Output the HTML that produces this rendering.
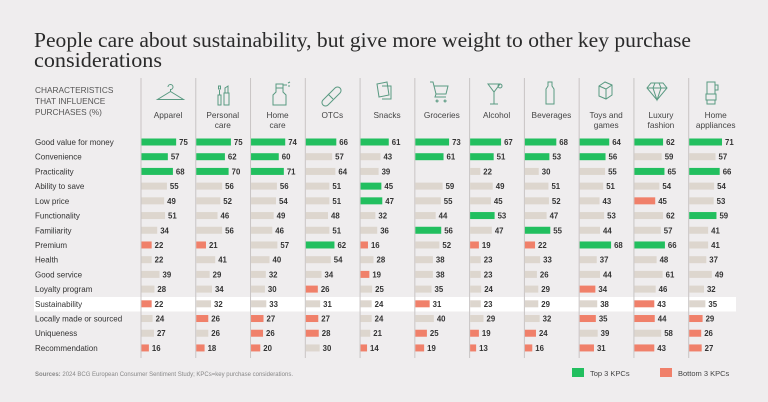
<!DOCTYPE html>
<html><head><meta charset="utf-8"><style>
html,body{margin:0;padding:0;background:#efedee;}
svg{display:block;font-family:"Liberation Sans",sans-serif;}
</style></head><body>
<svg id="chart" width="768" height="402" viewBox="0 0 768 402">
<rect x="0" y="0" width="768" height="402" fill="#efedee"/>
<text x="34" y="47" font-family="'Liberation Serif',serif" font-size="21" fill="#2a2a2a" textLength="657" lengthAdjust="spacingAndGlyphs">People care about sustainability, but give more weight to other key purchase</text>
<text x="34" y="67" font-family="'Liberation Serif',serif" font-size="21" fill="#2a2a2a" textLength="128" lengthAdjust="spacingAndGlyphs">considerations</text>
<rect x="34" y="297" width="702" height="14.5" fill="#ffffff"/>
<g fill="#555" font-size="8.3">
<text x="35" y="93">CHARACTERISTICS</text>
<text x="35" y="104">THAT INFLUENCE</text>
<text x="35" y="115">PURCHASES (%)</text>
</g>
<g id="icons" fill="none" stroke="#5a9a82" stroke-width="1">
<path d="M168 87 a2.5 2.5 0 1 1 2.5 2.5 v2 l-13 8 h26 l-13 -8"/>
<path d="M218 95 h3 v10 h-3 z M219.5 95 v-5 M218.5 86 h2 v3 h-2 z M224 93 h5 v12 h-5 z M225 93 v-5 l3 -2 v7"/>
<path d="M276 88 h7 v4 l3 3 v10 h-13 v-10 l3 -3 z M276 84 h7 v4 h-7 z M283 85 h4 M288 83 l2 -1 M288 86 h2"/>
<path d="M323 100 l12 -12 a3 3 0 0 1 5 5 l-12 12 a3 3 0 0 1 -5 -5 z M328 94 l5 5"/>
<path d="M377 84 l10 -2 l2 13 l-10 2 z M382 86 l9 0 l0 13 l-9 0"/>
<path d="M430 82 h3 l3 12 h10 l2 -8 h-14 M436 94 l-1 3 h11 M437 100 a1 1 0 1 0 0.1 0 M445 100 a1 1 0 1 0 0.1 0"/>
<path d="M488 84 h12 l-6 8 z M494 92 v12 M490 104 h8 M500 84 a2 2 0 1 0 0.1 0"/>
<path d="M548 82 h4 v4 l2 3 v15 h-8 v-15 l2 -3 z"/>
<path d="M599 86 l6 -4 l7 3 v10 l-6 4 l-7 -3 z M599 86 l7 3 l6 -4 M606 89 v10"/>
<path d="M651 83 h12 l4 5 l-10 12 l-10 -12 z M647 88 h20 M655 83 l-2 5 l4 12 l4 -12 l-2 -5"/>
<path d="M707 82 h8 v12 h-8 z M715 85 h3 v5 h-3 M706 94 h10 v6 h-10 z M707 100 h8 v4 h-8 z"/>
</g>
<g id="grid"></g>
<g id="labels"></g>
<g id="bars"></g>
<text x="35" y="376" font-size="6" fill="#888"><tspan font-weight="bold">Sources:</tspan> 2024 BCG European Consumer Sentiment Study; KPCs=key purchase considerations.</text>
<rect x="572" y="368" width="12" height="9" fill="#22bf5f"/>
<text x="590" y="376" font-size="7.5" fill="#444">Top 3 KPCs</text>
<rect x="660" y="368" width="12" height="9" fill="#f0806a"/>
<text x="678" y="376" font-size="7.5" fill="#444">Bottom 3 KPCs</text>
</svg>
<script>
const categories = [["Apparel"],["Personal","care"],["Home","care"],["OTCs"],["Snacks"],["Groceries"],["Alcohol"],["Beverages"],["Toys and","games"],["Luxury","fashion"],["Home","appliances"]];
const rowLabels = ["Good value for money","Convenience","Practicality","Ability to save","Low price","Functionality","Familiarity","Premium","Health","Good service","Loyalty program","Sustainability","Locally made or sourced","Uniqueness","Recommendation"];
const values = [
[75,75,74,66,61,73,67,68,64,62,71],
[57,62,60,57,43,61,51,53,56,59,57],
[68,70,71,64,39,null,22,30,55,65,66],
[55,56,56,51,45,59,49,51,51,54,54],
[49,52,54,51,47,55,45,52,43,45,53],
[51,46,49,48,32,44,53,47,53,62,59],
[34,56,46,51,36,56,47,55,44,57,41],
[22,21,57,62,16,52,19,22,68,66,41],
[22,41,40,54,28,38,23,33,37,48,37],
[39,29,32,34,19,38,23,26,44,61,49],
[28,34,30,26,25,35,24,29,34,46,32],
[22,32,33,31,24,31,23,29,38,43,35],
[24,26,27,27,24,40,29,32,35,44,29],
[27,26,26,28,21,25,19,24,39,58,26],
[16,18,20,30,14,19,13,16,31,43,27]];
const kinds = [
"ggggggggggg",
"gggnnggggnn",
"gggnnnnnngg",
"nnnngnnnnnn",
"nnnngnnnnrn",
"nnnnnngnnng",
"nnnnngngnnn",
"rrngrnrrggn",
"nnnnnnnnnnn",
"nnnnrnnnnnn",
"nnnrnnnnrnn",
"rnnnnrnnnrn",
"nrrrnnnnrrr",
"nnrrnrrrnnr",
"rrrnrrrrrrr"];
const colors = {g:"#22bf5f", r:"#f0806a", n:"#ddd6ce"};
const NS = "http://www.w3.org/2000/svg";
const colX = c => 141 + c * 54.77;
const rowY = r => 142 + r * 14.71;
const barW = v => v * 0.462;
const grid = document.getElementById("grid"), labels = document.getElementById("labels"), bars = document.getElementById("bars");
function mk(tag, attrs, parent){const e=document.createElementNS(NS,tag);for(const k in attrs)e.setAttribute(k,attrs[k]);parent.appendChild(e);return e;}
categories.forEach((cat, c) => {
  const ln = mk("line",{x1:colX(c),x2:colX(c),y1:78,y2:358,stroke:"#c8c4c4","stroke-width":1},grid);
  
  
  cat.forEach((t, i) => {
    const tx = mk("text",{x:colX(c)+27,y:118+i*10,"text-anchor":"middle","font-size":"8.3",fill:"#444"},labels);
    tx.textContent = t;
    
    
  });
});
rowLabels.forEach((l, r) => {
  const t = mk("text",{x:35,y:rowY(r)+3,"font-size":"8",fill:"#333"},labels);
  t.textContent = l;
  
  
  values[r].forEach((v, c) => {
    if (v === null) return;
    const x0 = colX(c) + 0.5;
    const b = mk("rect",{x:x0,y:rowY(r)-3.5,width:barW(v),height:7,fill:colors[kinds[r][c]]},bars);
    
    
    const vt = mk("text",{x:x0+barW(v)+3,y:rowY(r)+3,"font-size":"7.8","font-weight":"bold",fill:"#333"},bars);
    vt.textContent = v;
    
    
  });
});
</script>
</body></html>
